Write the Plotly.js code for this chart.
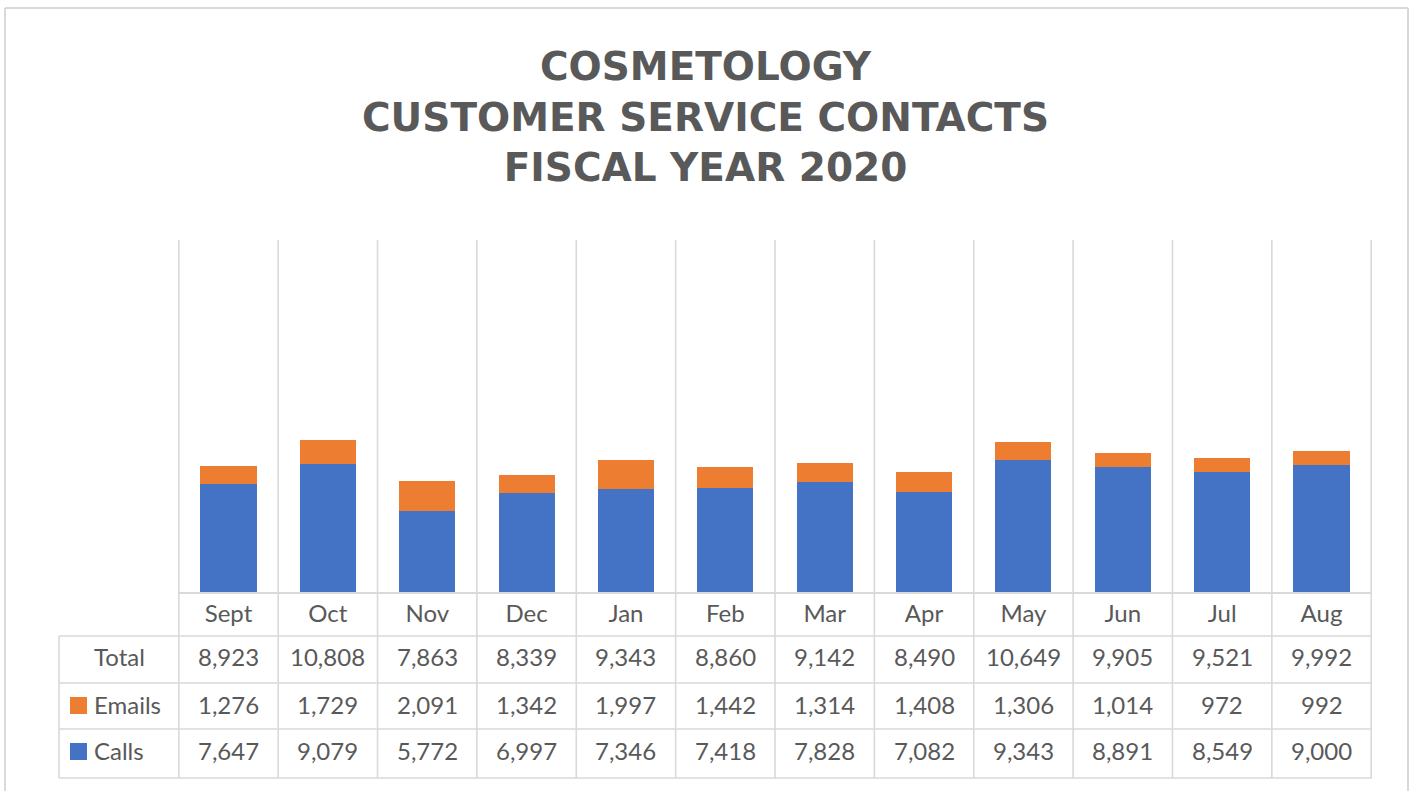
<!DOCTYPE html>
<html>
<head>
<meta charset="utf-8">
<script src="https://cdn.plot.ly/plotly-3.0.1.min.js"></script>
<style>html,body{margin:0;padding:0;background:#fff;}#chart{width:1411px;height:791px;}</style>
</head>
<body>
<div id="chart"></div>
<script>
const months = ["Sept","Oct","Nov","Dec","Jan","Feb","Mar","Apr","May","Jun","Jul","Aug"];
const calls  = [7647,9079,5772,6997,7346,7418,7828,7082,9343,8891,8549,9000];
const emails = [1276,1729,2091,1342,1997,1442,1314,1408,1306,1014,972,992];
const totals = [8923,10808,7863,8339,9343,8860,9142,8490,10649,9905,9521,9992];
const rowLabels = ["Total","Emails","Calls"];

const BLUE = "#4472C4", ORANGE = "#ED7D31", GRID = "#d9d9d9", TXT = "#595959";
const FONT = "Lato, 'Open Sans', sans-serif";

// geometry (pixel -> paper helpers)
const W = 1411, H = 791, L = 178, R = 1372, T = 240, B = 592;
const pw = R - L, ph = B - T;
const px = v => (v - L) / pw;
const py = v => (B - v) / ph;

const fmt = n => n.toLocaleString("en-US");

const traces = [
  {type:"bar", name:"Calls", x:months, y:calls, marker:{color:BLUE}, width:0.565, hoverinfo:"x+y+name"},
  {type:"bar", name:"Emails", x:months, y:emails, marker:{color:ORANGE}, width:0.565, hoverinfo:"x+y+name"}
];

const shapes = [];
const annotations = [];
const lineStyle = {color:GRID, width:1.6};

// vertical grid / table column lines
for (let i = 0; i <= months.length; i++) {
  shapes.push({type:"line", xref:"x", yref:"paper", x0:i-0.5, x1:i-0.5, y0:py(778), y1:1, line:lineStyle, layer:"below"});
}
// table left edge
shapes.push({type:"line", xref:"paper", yref:"paper", x0:px(59), x1:px(59), y0:py(778), y1:py(636), line:lineStyle});
// horizontal table lines
[636, 683, 729, 778].forEach(yy => {
  shapes.push({type:"line", xref:"paper", yref:"paper", x0:px(59), x1:px(R), y0:py(yy), y1:py(yy), line:lineStyle});
});
// outer chart border
shapes.push({type:"line", xref:"paper", yref:"paper", x0:px(5), x1:px(1408), y0:py(8), y1:py(8), line:{color:"#d9d9d9", width:2}});
shapes.push({type:"line", xref:"paper", yref:"paper", x0:px(5), x1:px(5), y0:py(8), y1:py(800), line:{color:"#d9d9d9", width:2}});
shapes.push({type:"line", xref:"paper", yref:"paper", x0:px(1408), x1:px(1408), y0:py(8), y1:py(800), line:{color:"#d9d9d9", width:2}});

// legend keys in table
shapes.push({type:"rect", xref:"paper", yref:"paper", x0:px(70), x1:px(87), y0:py(714), y1:py(697), fillcolor:ORANGE, line:{width:0}});
shapes.push({type:"rect", xref:"paper", yref:"paper", x0:px(70), x1:px(87), y0:py(760), y1:py(743), fillcolor:BLUE, line:{width:0}});

const rowY = [656, 704, 750];
const rowData = [totals, emails, calls];
const tf = {family:FONT, size:24, color:TXT};

// row header labels
annotations.push({xref:"paper", yref:"paper", x:px(119), y:py(rowY[0]), text:rowLabels[0], showarrow:false, xanchor:"center", yanchor:"middle", font:tf});
annotations.push({xref:"paper", yref:"paper", x:px(92), y:py(rowY[1]), text:rowLabels[1], showarrow:false, xanchor:"left", yanchor:"middle", font:tf});
annotations.push({xref:"paper", yref:"paper", x:px(92), y:py(rowY[2]), text:rowLabels[2], showarrow:false, xanchor:"left", yanchor:"middle", font:tf});

// table values
rowData.forEach((arr, r) => {
  arr.forEach((v, i) => {
    annotations.push({xref:"x", yref:"paper", x:months[i], y:py(rowY[r]), text:fmt(v), showarrow:false, xanchor:"center", yanchor:"middle", font:tf});
  });
});

const layout = {
  width:W, height:H,
  margin:{l:L, r:W-R, t:T, b:H-B, pad:0},
  paper_bgcolor:"#fff", plot_bgcolor:"#fff",
  barmode:"stack",
  showlegend:false,
  title:{
    text:"COSMETOLOGY<br>CUSTOMER SERVICE CONTACTS<br>FISCAL YEAR 2020",
    font:{family:"'DejaVu Sans', sans-serif", size:39, color:TXT, weight:"bold"},
    x:0.5, xref:"container", xanchor:"center",
    y:1 - 80/H, yref:"container", yanchor:"top"
  },
  xaxis:{
    type:"category", showgrid:false, zeroline:false,
    showline:true, linecolor:GRID, linewidth:1.6,
    ticks:"", tickfont:{family:FONT, size:24, color:TXT},
    ticklabelstandoff:0, fixedrange:true
  },
  yaxis:{range:[0,25000], visible:false, showgrid:false, zeroline:false, fixedrange:true},
  shapes:shapes,
  annotations:annotations
};

Plotly.newPlot("chart", traces, layout, {displayModeBar:false, staticPlot:true});
</script>
</body>
</html>
